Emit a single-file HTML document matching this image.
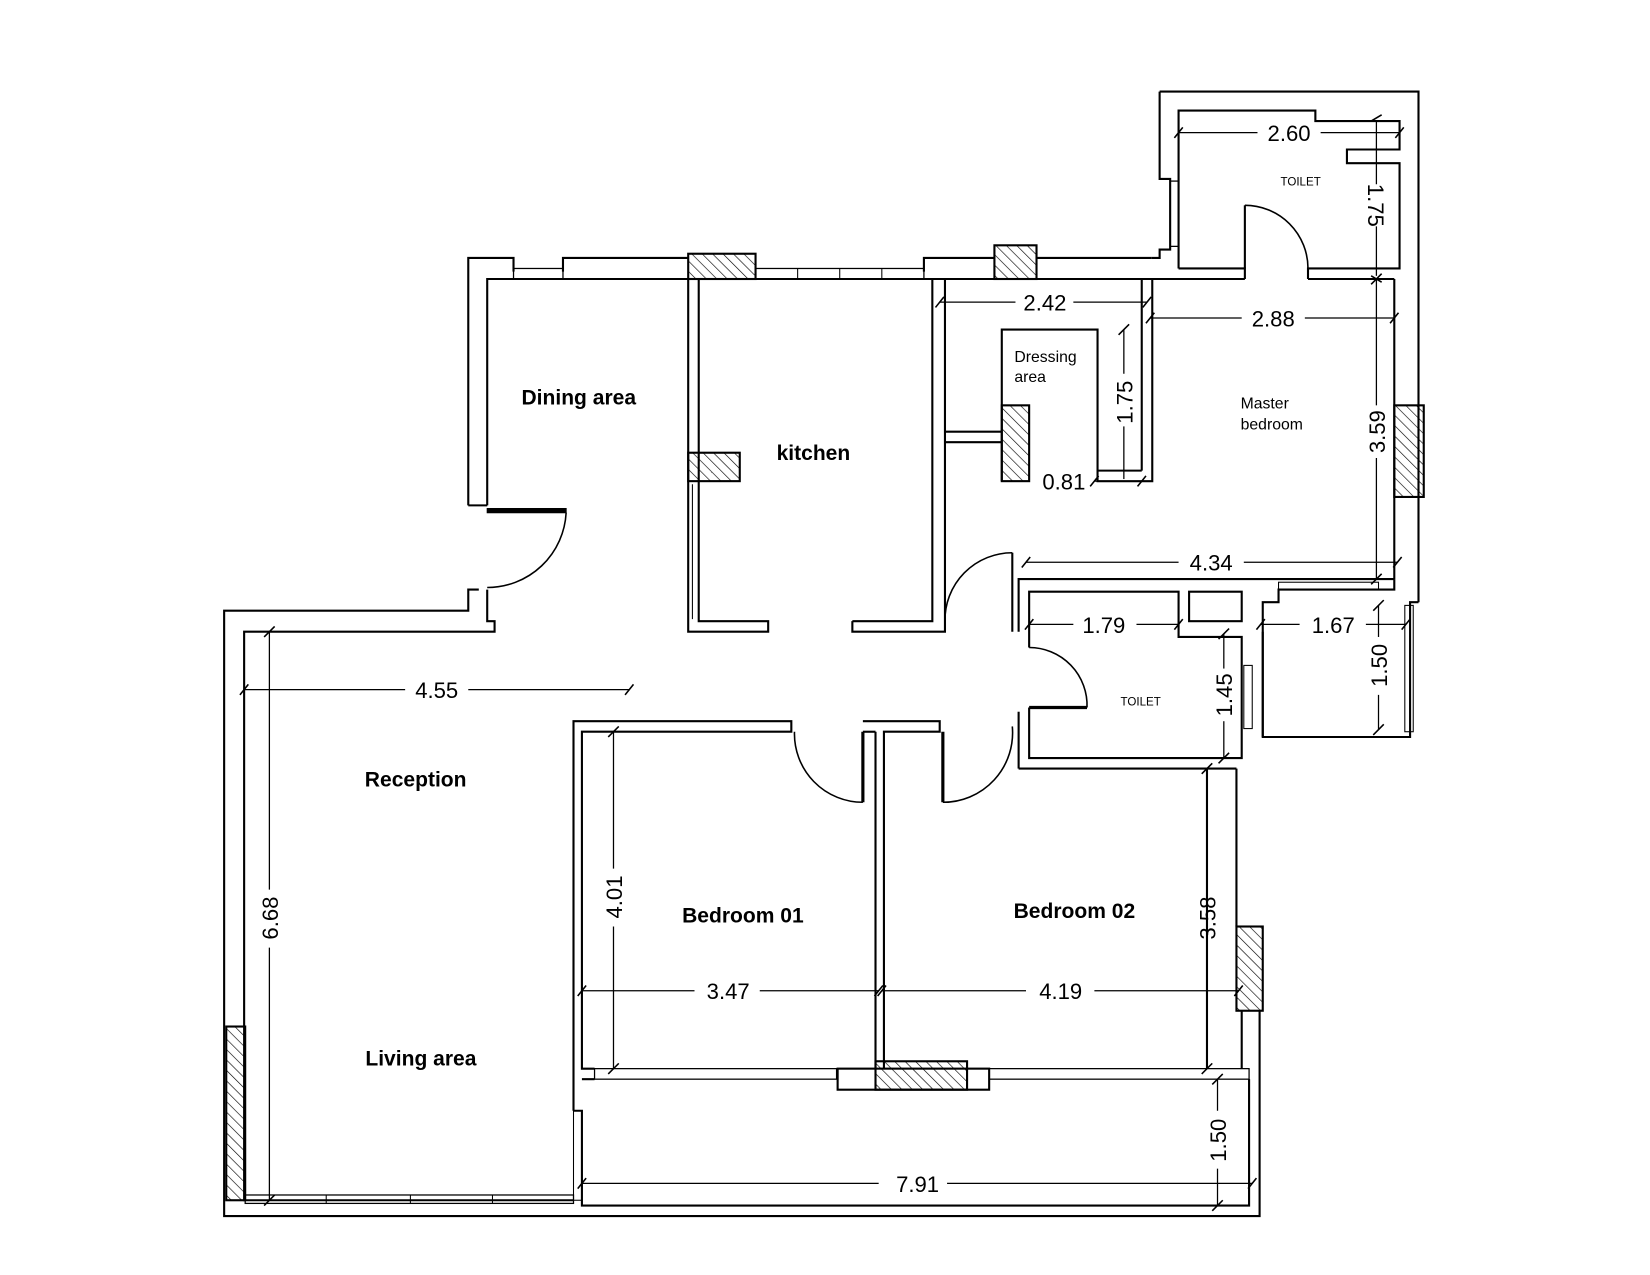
<!DOCTYPE html>
<html><head><style>
html,body{margin:0;padding:0;background:#fff;}
svg{display:block;}
text{font-family:"Liberation Sans",sans-serif;fill:#000;}
.b{font-weight:bold;font-size:20px;}
.d{font-size:21px;}
.s{font-size:15px;}
.t{font-size:11px;}
</style></head><body>
<svg width="1650" height="1275" viewBox="0 0 1568 1211" preserveAspectRatio="none" xmlns="http://www.w3.org/2000/svg">
<defs>
<pattern id="h" width="7" height="7" patternUnits="userSpaceOnUse" patternTransform="rotate(-45)">
<line x1="0" y1="0" x2="0" y2="7" stroke="#000" stroke-width="1.2"/></pattern>
</defs>
<g fill="none" stroke="#000" stroke-width="2">
<polyline points="1102,87 1348,87 1348,572"/>
<polyline points="1102,87 1102,170 1112,170 1112,237 1102,237 1102,245 1094,245"/>
<polyline points="1120,255 1120,105 1250,105 1250,115 1330,115 1330,142 1280,142 1280,155 1330,155 1330,255 1243,255 1243,265"/>
<polyline points="1120,255 1183,255 1183,265"/>
<rect x="1112" y="172" width="8" height="62" stroke-width="1.2"/>
<line x1="1183" y1="195" x2="1183" y2="255"/>
<path d="M1183,195 A60,60 0 0 1 1243,255" stroke-width="1.5"/>
<polyline points="445,480 445,245 488,245 488,258"/>
<polyline points="535,258 535,245 654,245"/>
<rect x="488" y="255" width="47" height="10" stroke-width="1.2"/>
<rect x="654" y="241" width="64" height="24" fill="url(#h)"/>
<rect x="718" y="255" width="160" height="10" stroke-width="1.2"/>
<line x1="758" y1="255" x2="758" y2="265" stroke-width="1"/><line x1="798" y1="255" x2="798" y2="265" stroke-width="1"/><line x1="838" y1="255" x2="838" y2="265" stroke-width="1"/>
<polyline points="878,258 878,245 945,245"/>
<rect x="945" y="233" width="40" height="32" fill="url(#h)"/>
<line x1="985" y1="245" x2="1094" y2="245"/>
<polyline points="463,480 463,265 1183,265"/>
<line x1="1243" y1="265" x2="1325" y2="265"/>
<line x1="445" y1="480" x2="463" y2="480"/>
<rect x="463" y="483" width="75" height="4" fill="#000" stroke-width="1"/>
<path d="M538,487 A75,75 0 0 1 463,558" stroke-width="1.5"/>
<polyline points="455,560 445,560 445,580 213,580 213,1155 1197,1155 1197,960"/>
<polyline points="463,560 463,590 470,590 470,600 232,600 232,1140 545,1140"/>
<rect x="215" y="975" width="18" height="165" fill="url(#h)"/>
<rect x="233" y="1135" width="312" height="8" stroke-width="1.2"/>
<line x1="310" y1="1135" x2="310" y2="1143" stroke-width="1"/><line x1="390" y1="1135" x2="390" y2="1143" stroke-width="1"/><line x1="468" y1="1135" x2="468" y2="1143" stroke-width="1"/>
<polyline points="654,265 654,600 730,600 730,590 664,590 664,265"/>
<polyline points="810,590 810,600 898,600 898,265"/>
<polyline points="810,590 886,590 886,265"/>
<rect x="654" y="430" width="49" height="27" fill="url(#h)"/>
<line x1="658" y1="460" x2="658" y2="588" stroke-width="1"/>
<line x1="898" y1="410" x2="952" y2="410"/><line x1="898" y1="420" x2="952" y2="420"/>
<polyline points="952,457 952,313 1043,313 1043,457 1095,457 1095,265"/>
<line x1="1085" y1="265" x2="1085" y2="447"/>
<line x1="1085" y1="447" x2="1043" y2="447"/>
<rect x="952" y="385" width="26" height="72" fill="url(#h)"/>
<line x1="1325" y1="265" x2="1325" y2="550"/>
<rect x="1325" y="385" width="28" height="87" fill="url(#h)"/>
<polyline points="962,525 962,600"/>
<path d="M962,525 A64,64 0 0 0 898,590" stroke-width="1.5"/>
<polyline points="968,600 968,550 1325,550"/>
<polyline points="1325,550 1325,560 1215,560 1215,572 1200,572 1200,700 1340,700 1340,572 1348,572"/>
<rect x="1215" y="553" width="95" height="7" stroke-width="1"/>
<rect x="1335" y="575" width="8" height="120" stroke-width="1"/>
<polyline points="978,615 978,562 1120,562 1120,605 1180,605 1180,720 978,720 978,672"/>
<rect x="1130" y="562" width="50" height="28"/>
<line x1="968" y1="676" x2="968" y2="730"/>
<polyline points="968,730 1175,730"/>
<line x1="1200" y1="600" x2="1200" y2="700"/>
<rect x="1182" y="632" width="8" height="60" stroke-width="1"/>
<line x1="978" y1="672" x2="1033" y2="672" stroke-width="3"/>
<path d="M978,615 A55,55 0 0 1 1033,672" stroke-width="1.5"/>
<polyline points="545,1055 545,685 752,685 752,695 553,695 553,1015 565,1015"/>
<line x1="820" y1="695" x2="820" y2="762" stroke-width="3"/>
<path d="M755,695 A65,65 0 0 0 820,762" stroke-width="1.5"/>
<polyline points="820,685 893,685 893,695 840,695 840,1015"/>
<line x1="832" y1="695" x2="832" y2="1015"/>
<line x1="820" y1="695" x2="832" y2="695"/>
<line x1="896" y1="695" x2="896" y2="762" stroke-width="3"/>
<path d="M962,690 A66,66 0 0 1 896,762" stroke-width="1.5"/>
<polyline points="1147,730 1147,1015"/>
<polyline points="1175,730 1175,880"/>
<rect x="1175" y="880" width="25" height="80" fill="url(#h)"/>
<line x1="1180" y1="960" x2="1180" y2="1015"/>
<rect x="565" y="1015" width="230" height="10" stroke-width="1.2"/>
<rect x="940" y="1015" width="247" height="10" stroke-width="1.2"/>
<rect x="796" y="1015" width="144" height="20"/>
<rect x="832" y="1008" width="87" height="27" fill="url(#h)"/>
<line x1="553" y1="1025" x2="565" y2="1025"/>
<polyline points="545,1055 553,1055 553,1145 1187,1145 1187,1025"/>
<rect x="545" y="1055" width="8" height="85" stroke-width="1"/>
<g stroke-width="1.2">
<line x1="1120" y1="126" x2="1195" y2="126"/><line x1="1255" y1="126" x2="1330" y2="126"/>
<line x1="1308" y1="115" x2="1308" y2="175"/><line x1="1308" y1="215" x2="1308" y2="262"/>
<line x1="893" y1="287" x2="965" y2="287"/><line x1="1020" y1="287" x2="1090" y2="287"/>
<line x1="1093" y1="302" x2="1180" y2="302"/><line x1="1240" y1="302" x2="1325" y2="302"/>
<line x1="1068" y1="313" x2="1068" y2="355"/><line x1="1068" y1="405" x2="1068" y2="455"/>
<line x1="1040" y1="457" x2="1085" y2="457"/>
<line x1="1308" y1="265" x2="1308" y2="385"/><line x1="1308" y1="435" x2="1308" y2="550"/>
<line x1="975" y1="534" x2="1120" y2="534"/><line x1="1182" y1="534" x2="1328" y2="534"/>
<line x1="978" y1="593" x2="1020" y2="593"/><line x1="1080" y1="593" x2="1120" y2="593"/>
<line x1="1198" y1="593" x2="1235" y2="593"/><line x1="1298" y1="593" x2="1336" y2="593"/>
<line x1="1163" y1="602" x2="1163" y2="635"/><line x1="1163" y1="685" x2="1163" y2="720"/>
<line x1="1310" y1="575" x2="1310" y2="605"/><line x1="1310" y1="660" x2="1310" y2="693"/>
<line x1="232" y1="655" x2="385" y2="655"/><line x1="445" y1="655" x2="598" y2="655"/>
<line x1="256" y1="600" x2="256" y2="845"/><line x1="256" y1="900" x2="256" y2="1140"/>
<line x1="583" y1="695" x2="583" y2="825"/><line x1="583" y1="880" x2="583" y2="1015"/>
<line x1="553" y1="941" x2="660" y2="941"/><line x1="722" y1="941" x2="835" y2="941"/>
<line x1="838" y1="941" x2="975" y2="941"/><line x1="1040" y1="941" x2="1177" y2="941"/>
<line x1="1147" y1="730" x2="1147" y2="845"/><line x1="1147" y1="900" x2="1147" y2="1015"/>
<line x1="1157" y1="1025" x2="1157" y2="1055"/><line x1="1157" y1="1110" x2="1157" y2="1145"/>
<line x1="553" y1="1124" x2="835" y2="1124"/><line x1="900" y1="1124" x2="1190" y2="1124"/>
</g>
<g stroke-width="1.5">
<path d="M1116,131 l8,-10 M1326,131 l8,-10 M1303,115 l10,-6 M1303,262 l10,6 M889,292 l8,-10 M1086,292 l8,-10 M1089,307 l8,-10 M1321,307 l8,-10 M1063,318 l10,-10 M1036,462 l8,-10 M1081,462 l8,-10 M1303,270 l10,-10 M1303,555 l10,-10 M971,539 l8,-10 M1324,539 l8,-10 M974,598 l8,-10 M1116,598 l8,-10 M1194,598 l8,-10 M1332,598 l8,-10 M1158,607 l10,-10 M1158,725 l10,-10 M1305,580 l10,-10 M1305,698 l10,-10 M228,660 l8,-10 M594,660 l8,-10 M251,605 l10,-10 M251,1145 l10,-10 M578,700 l10,-10 M578,1020 l10,-10 M549,946 l8,-10 M831,946 l8,-10 M834,946 l8,-10 M1173,946 l8,-10 M1142,735 l10,-10 M1142,1020 l10,-10 M1152,1030 l10,-10 M1152,1150 l10,-10 M549,1129 l8,-10 M1186,1129 l8,-10"/>
</g>
</g>
<text class="d" x="1225" y="134" text-anchor="middle">2.60</text>
<text class="d" transform="translate(1300,195) rotate(90)" text-anchor="middle">1.75</text>
<text class="t" x="1236" y="176" text-anchor="middle">TOILET</text>
<text class="d" x="993" y="295" text-anchor="middle">2.42</text>
<text class="d" x="1210" y="310" text-anchor="middle">2.88</text>
<text class="s" x="964" y="344">Dressing</text>
<text class="s" x="964" y="363">area</text>
<text class="d" transform="translate(1076,382) rotate(-90)" text-anchor="middle">1.75</text>
<text class="d" x="1011" y="465" text-anchor="middle">0.81</text>
<text class="s" x="1179" y="388">Master</text>
<text class="s" x="1179" y="408">bedroom</text>
<text class="d" transform="translate(1316,410) rotate(-90)" text-anchor="middle">3.59</text>
<text class="d" x="1151" y="542" text-anchor="middle">4.34</text>
<text class="d" x="1049" y="601" text-anchor="middle">1.79</text>
<text class="d" x="1267" y="601" text-anchor="middle">1.67</text>
<text class="d" transform="translate(1171,660) rotate(-90)" text-anchor="middle">1.45</text>
<text class="d" transform="translate(1318,632) rotate(-90)" text-anchor="middle">1.50</text>
<text class="t" x="1084" y="670" text-anchor="middle">TOILET</text>
<text class="b" x="550" y="384" text-anchor="middle">Dining area</text>
<text class="b" x="773" y="437" text-anchor="middle">kitchen</text>
<text class="d" x="415" y="663" text-anchor="middle">4.55</text>
<text class="b" x="395" y="747" text-anchor="middle">Reception</text>
<text class="b" x="400" y="1012" text-anchor="middle">Living area</text>
<text class="d" transform="translate(264,872) rotate(-90)" text-anchor="middle">6.68</text>
<text class="d" transform="translate(591,852) rotate(-90)" text-anchor="middle">4.01</text>
<text class="b" x="706" y="876" text-anchor="middle">Bedroom 01</text>
<text class="b" x="1021" y="872" text-anchor="middle">Bedroom 02</text>
<text class="d" transform="translate(1155,872) rotate(-90)" text-anchor="middle">3.58</text>
<text class="d" x="692" y="949" text-anchor="middle">3.47</text>
<text class="d" x="1008" y="949" text-anchor="middle">4.19</text>
<text class="d" transform="translate(1165,1083) rotate(-90)" text-anchor="middle">1.50</text>
<text class="d" x="872" y="1132" text-anchor="middle">7.91</text>
</svg>
</body></html>
